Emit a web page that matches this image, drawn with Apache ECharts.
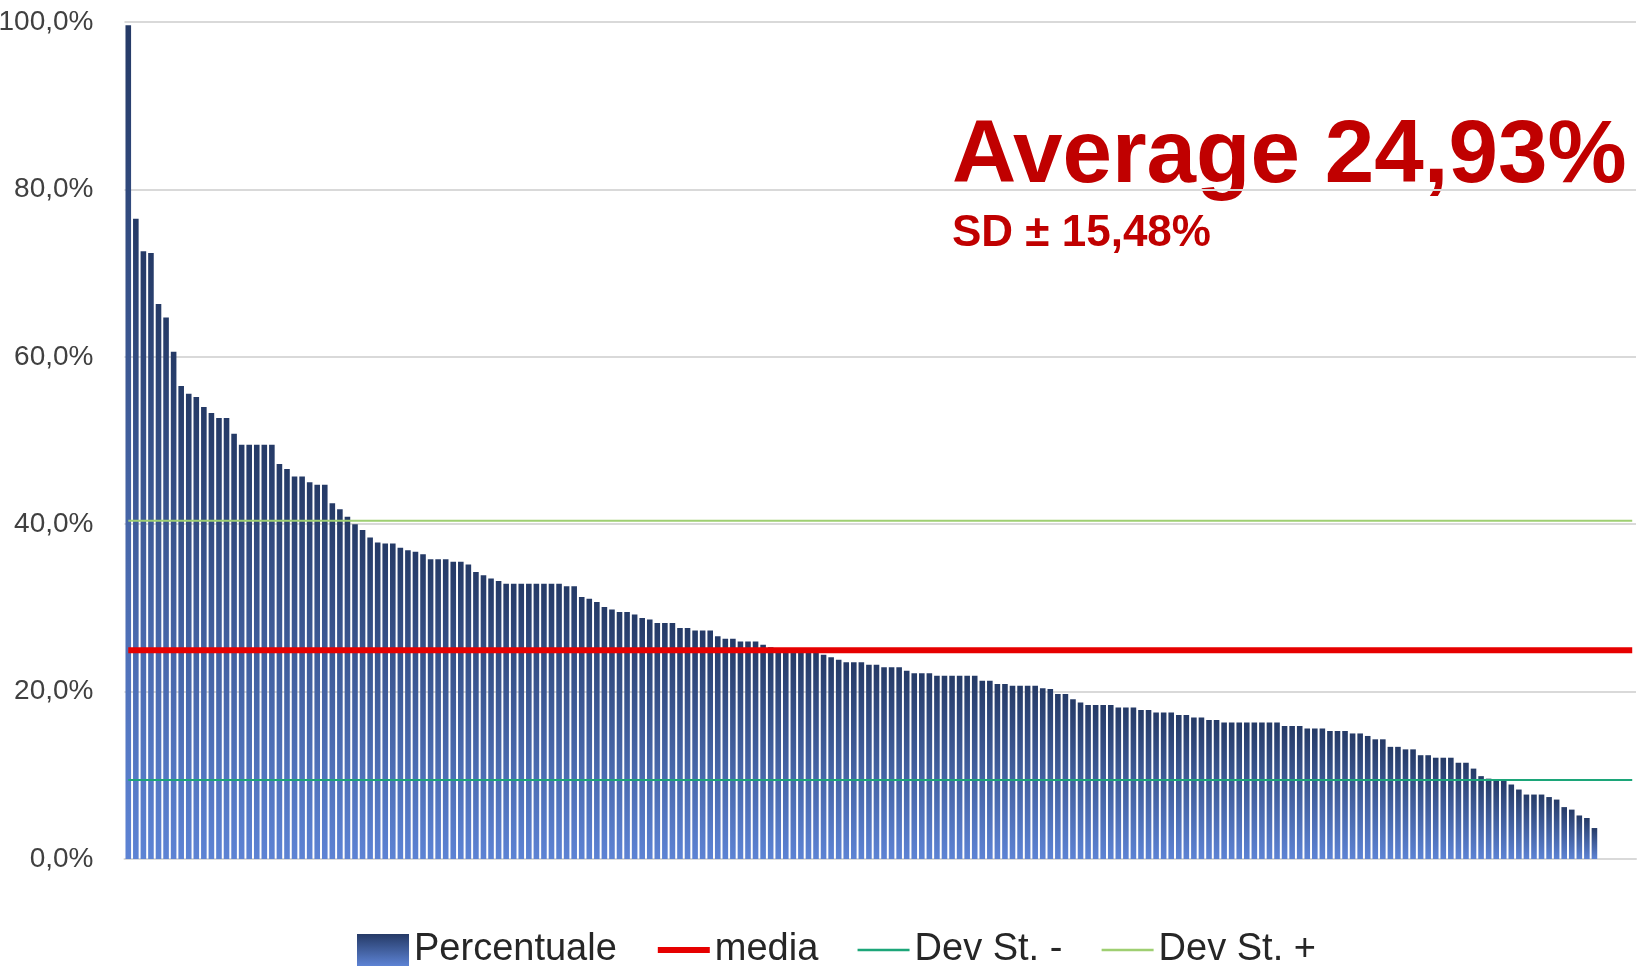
<!DOCTYPE html>
<html>
<head>
<meta charset="utf-8">
<script src="https://cdn.jsdelivr.net/npm/echarts@6/dist/echarts.min.js"></script>
<style>
  html, body { margin: 0; padding: 0; background: #fff; }
  #chart { width: 1639px; height: 969px; }
</style>
</head>
<body>
<div id="chart"></div>
<script>
// values, sorted high to low (in %)
const percentuale = [
  99.6, 76.5, 72.6, 72.4, 66.3, 64.7, 60.6, 56.5, 55.6, 55.2,
  54.0, 53.3, 52.7, 52.7, 50.8, 49.5, 49.5, 49.5, 49.5, 49.5,
  47.2, 46.6, 45.7, 45.7, 45.0, 44.7, 44.7, 42.5, 41.8, 40.9,
  40.0, 39.3, 38.4, 37.8, 37.7, 37.7, 37.2, 36.9, 36.7, 36.4,
  35.8, 35.8, 35.8, 35.5, 35.5, 35.2, 34.3, 33.9, 33.5, 33.2,
  32.9, 32.9, 32.9, 32.9, 32.9, 32.9, 32.9, 32.9, 32.6, 32.6,
  31.3, 31.1, 30.7, 30.1, 29.8, 29.5, 29.5, 29.2, 28.8, 28.6,
  28.2, 28.2, 28.2, 27.6, 27.6, 27.3, 27.3, 27.3, 26.6, 26.3,
  26.3, 26.0, 26.0, 26.0, 25.6, 25.3, 25.2, 25.1, 25.0, 24.9,
  24.8, 24.6, 24.4, 24.1, 23.8, 23.5, 23.5, 23.5, 23.2, 23.2,
  22.9, 22.9, 22.9, 22.5, 22.2, 22.2, 22.2, 21.9, 21.9, 21.9,
  21.9, 21.9, 21.9, 21.3, 21.3, 20.9, 20.9, 20.7, 20.7, 20.7,
  20.7, 20.4, 20.3, 19.7, 19.7, 19.1, 18.7, 18.4, 18.4, 18.4,
  18.4, 18.1, 18.1, 18.1, 17.8, 17.8, 17.5, 17.5, 17.5, 17.2,
  17.2, 16.9, 16.9, 16.6, 16.6, 16.3, 16.3, 16.3, 16.3, 16.3,
  16.3, 16.3, 16.3, 15.9, 15.9, 15.9, 15.6, 15.6, 15.6, 15.3,
  15.3, 15.3, 15.0, 15.0, 14.7, 14.3, 14.3, 13.4, 13.4, 13.1,
  13.1, 12.4, 12.4, 12.1, 12.1, 12.1, 11.5, 11.5, 10.8, 9.9,
  9.6, 9.5, 9.4, 8.9, 8.3, 7.7, 7.7, 7.7, 7.4, 7.1,
  6.2, 5.9, 5.2, 4.9, 3.7
];
const categories = Array.from({ length: 200 }, (_, i) => String(i + 1));
const media = 24.93;
const devSt = 15.48;
const yTicks = [0, 20, 40, 60, 80, 100];

const chart = echarts.init(document.getElementById('chart'));

const sans = 'Liberation Sans, Arial, sans-serif';

// line legend items: hide the dot, keep the stroke
const lineLegend = (name, w) => ({
    name: name,
    itemStyle: { opacity: 0 },
    lineStyle: { width: w }
});

let option = {
    animation: false,
    backgroundColor: '#fff',
    grid: {
        left: 124.5, right: 3, top: 22, bottom: 110,
        containLabel: false, outerBoundsMode: 'none'
    },
    legend: {
        left: 352,
        top: 926,
        itemWidth: 52,
        itemHeight: 32,
        itemGap: 38,
        textStyle: { fontFamily: sans, fontSize: 38, color: '#262626' },
        data: [
            { name: 'Percentuale', icon: 'rect' },
            lineLegend('media', 6), lineLegend('Dev St. -', 2.5), lineLegend('Dev St. +', 2.5)
        ]
    },
    xAxis: {
        type: 'category',
        data: categories,
        boundaryGap: true,
        axisLine: { lineStyle: { color: '#d9d9d9', width: 2 } },
        axisTick: { show: false },
        axisLabel: { show: false }
    },
    yAxis: {
        type: 'value',
        min: yTicks[0],
        max: yTicks[yTicks.length - 1],
        interval: 20,
        axisLine: { show: false },
        axisTick: { show: false },
        splitLine: { lineStyle: { color: '#d9d9d9', width: 2 } },
        axisLabel: {
            margin: 31,
            fontFamily: sans,
            fontSize: 28,
            color: '#404040',
            formatter: v => v.toFixed(1).replace('.', ',') + '%'
        }
    },
    graphic: [
        {
            type: 'text', left: 952, top: 113,
            style: {
                text: 'Average 24,93%',
                fontFamily: sans, fontWeight: 'bold', fontSize: 89,
                fill: '#c00000'
            }
        },
        {
            type: 'text', left: 952, top: 212,
            style: {
                text: 'SD ± 15,48%',
                fontFamily: sans, fontWeight: 'bold', fontSize: 44,
                fill: '#c00000'
            }
        }
    ],
    series: [
        {
            name: 'Percentuale',
            type: 'bar',
            data: percentuale,
            barCategoryGap: '26%',
            itemStyle: {
                color: new echarts.graphic.LinearGradient(0, 0, 0, 1, [
                    { offset: 0, color: '#253a66' },
                    { offset: 1, color: '#5d83d4' }
                ])
            }
        },
        {
            name: 'Dev St. -',
            type: 'line',
            symbol: 'none',
            data: categories.map(() => media - devSt),
            lineStyle: { color: '#1ca679', width: 2 },
            itemStyle: { color: '#1ca679' },
            z: 3
        },
        {
            name: 'Dev St. +',
            type: 'line',
            symbol: 'none',
            data: categories.map(() => media + devSt),
            lineStyle: { color: '#9fcf72', width: 2 },
            itemStyle: { color: '#9fcf72' },
            z: 3
        },
        {
            name: 'media',
            type: 'line',
            symbol: 'none',
            data: categories.map(() => media),
            lineStyle: { color: '#e60000', width: 6 },
            itemStyle: { color: '#e60000' },
            z: 4
        }
    ]
};

chart.setOption(option);
</script>
</body>
</html>
